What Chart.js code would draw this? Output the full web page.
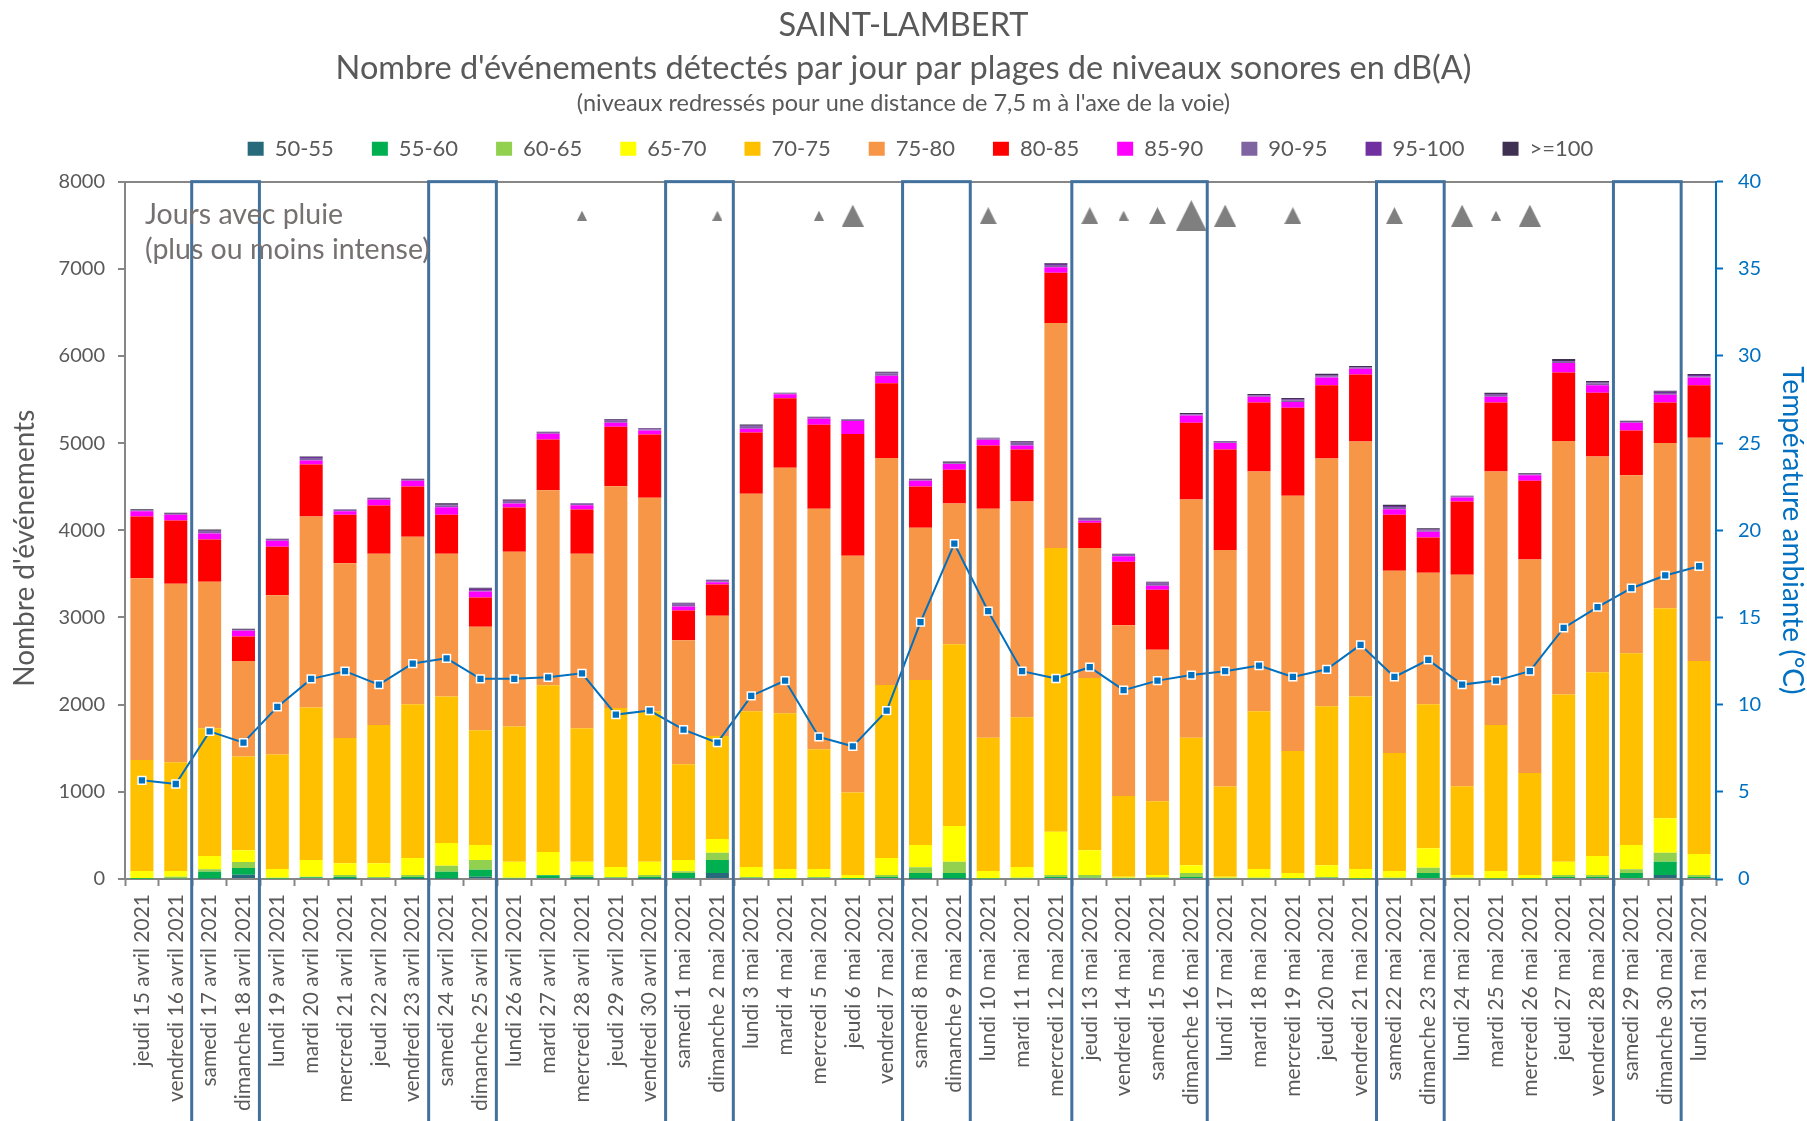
<!DOCTYPE html>
<html>
<head>
<meta charset="utf-8">
<title>Saint-Lambert</title>
<script src="https://cdn.jsdelivr.net/npm/chart.js@4"></script>
<style>
  html, body { margin: 0; padding: 0; background: #fff; }
  canvas { display: block; }
</style>
</head>
<body>
<canvas id="grafico" width="1807" height="1121"></canvas>
<script>
const days = ["jeudi 15 avril 2021","vendredi 16 avril 2021","samedi 17 avril 2021","dimanche 18 avril 2021","lundi 19 avril 2021","mardi 20 avril 2021","mercredi 21 avril 2021","jeudi 22 avril 2021","vendredi 23 avril 2021","samedi 24 avril 2021","dimanche 25 avril 2021","lundi 26 avril 2021","mardi 27 avril 2021","mercredi 28 avril 2021","jeudi 29 avril 2021","vendredi 30 avril 2021","samedi 1 mai 2021","dimanche 2 mai 2021","lundi 3 mai 2021","mardi 4 mai 2021","mercredi 5 mai 2021","jeudi 6 mai 2021","vendredi 7 mai 2021","samedi 8 mai 2021","dimanche 9 mai 2021","lundi 10 mai 2021","mardi 11 mai 2021","mercredi 12 mai 2021","jeudi 13 mai 2021","vendredi 14 mai 2021","samedi 15 mai 2021","dimanche 16 mai 2021","lundi 17 mai 2021","mardi 18 mai 2021","mercredi 19 mai 2021","jeudi 20 mai 2021","vendredi 21 mai 2021","samedi 22 mai 2021","dimanche 23 mai 2021","lundi 24 mai 2021","mardi 25 mai 2021","mercredi 26 mai 2021","jeudi 27 mai 2021","vendredi 28 mai 2021","samedi 29 mai 2021","dimanche 30 mai 2021","lundi 31 mai 2021"];

const db50 = [0,0,5,50,0,0,2,0,3,5,27,0,0,3,0,3,10,69,0,0,0,0,0,3,3,0,0,0,0,0,0,0,0,0,0,0,0,0,0,0,0,0,0,0,0,46,0];
const db55 = [3,8,79,76,5,20,21,15,20,79,80,8,42,20,15,20,59,149,15,5,15,4,23,66,66,5,8,23,15,8,10,23,8,8,5,15,5,8,69,8,5,5,23,23,69,153,23];
const db60 = [7,17,27,69,10,7,23,8,23,69,111,7,4,23,8,23,19,84,8,5,8,4,23,65,130,5,7,23,31,7,10,46,7,7,5,8,5,7,61,7,5,5,23,23,42,103,23];
const db65 = [82,67,153,134,100,191,134,157,195,260,172,184,264,153,115,153,130,157,115,105,92,38,195,256,409,82,123,497,283,12,26,88,12,100,59,134,105,77,222,31,82,36,153,218,279,394,241];
const db70 = [1274,1247,1466,1075,1312,1749,1438,1588,1764,1680,1316,1550,1913,1531,1825,1726,1098,1182,1787,1787,1373,946,1986,1894,2086,1527,1718,3253,1978,926,846,1462,1033,1810,1400,1825,1978,1354,1653,1018,1676,1171,1917,2108,2200,2411,2215];
const db75 = [2085,2047,1679,1098,1829,2192,2005,1963,1921,1638,1187,2004,2238,2001,2544,2448,1424,1378,2494,2816,2759,2716,2602,1745,1614,2628,2475,2582,1489,1959,1737,2735,2713,2750,2927,2843,2927,2089,1507,2425,2907,2448,2908,2476,2043,1894,2560];
const db80 = [708,727,486,280,555,597,555,554,577,447,336,509,582,508,681,727,340,360,704,796,964,1396,857,475,387,727,597,578,290,727,688,880,1155,792,1010,838,769,643,406,842,792,903,788,730,513,466,601];
const db85 = [61,65,69,65,69,46,42,65,65,88,69,46,65,50,46,46,46,26,42,46,69,149,88,65,65,65,46,61,23,65,46,84,73,66,65,91,65,65,65,46,66,65,107,85,88,89,91];
const db90 = [8,8,20,6,10,28,15,8,8,20,18,20,8,14,22,14,20,12,22,12,10,17,25,5,8,17,30,28,20,14,24,8,9,10,22,14,12,26,16,9,20,8,14,24,8,20,14];
const db95 = [5,5,10,5,8,12,5,5,4,8,14,10,5,6,12,9,14,10,13,4,4,3,10,5,6,3,12,12,9,8,14,7,9,7,12,8,5,10,10,6,8,5,10,9,5,15,15];
const db100 = [10,10,16,12,5,6,3,10,11,18,10,16,10,3,8,4,8,5,15,3,9,3,11,13,16,3,8,10,6,5,8,12,5,13,12,21,14,14,16,4,17,10,22,16,10,10,10];

const temperature = [5.66,5.45,8.47,7.82,9.87,11.48,11.92,11.15,12.36,12.66,11.48,11.48,11.57,11.8,9.43,9.66,8.57,7.82,10.5,11.38,8.15,7.61,9.66,14.73,19.24,15.36,11.92,11.5,12.15,10.83,11.38,11.7,11.92,12.24,11.59,12.03,13.43,11.59,12.57,11.15,11.38,11.92,14.4,15.59,16.68,17.41,17.94];

// pluie : 0 = rien, 1 a 4 = de faible a forte
const rain = [0,0,0,0,0,0,0,0,0,0,0,0,0,1,0,0,0,1,0,0,1,3,0,0,0,2,0,0,2,1,2,4,3,0,2,0,0,2,0,3,1,3,0,0,0,0,0];

// premier et dernier jour de chaque cadre (week-ends et pont)
const weekendFrom = [2,9,16,23,28,37,44];
const weekendTo = [3,10,17,24,31,38,45];

const bandLabels = ["50-55","55-60","60-65","65-70","70-75","75-80","80-85","85-90","90-95","95-100",">=100"];
const bandColors = ["#276a7c","#00b050","#92d050","#ffff00","#ffc000","#f79646","#ff0000","#ff00ff","#8064a2","#7030a0","#403152"];
const bandValues = [db50,db55,db60,db65,db70,db75,db80,db85,db90,db95,db100];

const grey = "#595959";
const blue = "#0070c0";
const axisGrey = "#868686";
const font = "Lato";

// triangles de pluie, un canvas par niveau
const triangleSizes = [0,10,17,22,31];
const triangles = triangleSizes.map(function(s){
  const c = document.createElement("canvas");
  c.width = s || 1;
  c.height = s || 1;
  const g = c.getContext("2d");
  g.fillStyle = "#7f7f7f";
  g.beginPath();
  g.moveTo(s/2,0);
  g.lineTo(s,s);
  g.lineTo(0,s);
  g.closePath();
  g.fill();
  return c;
});

const datasets = bandLabels.map(function(label,i){
  return {
    type: "bar",
    label: label,
    data: bandValues[i],
    backgroundColor: bandColors[i],
    borderWidth: 0,
    barPercentage: 0.68,
    categoryPercentage: 1,
    yAxisID: "y",
    order: 2
  };
});

datasets.push({
  type: "line",
  label: "Température",
  data: temperature,
  yAxisID: "y2",
  borderColor: blue,
  borderWidth: 2,
  tension: 0,
  pointStyle: "rect",
  pointRadius: 5.5,
  pointBackgroundColor: blue,
  pointBorderColor: "#fff",
  pointBorderWidth: 1.5,
  order: 1
});

datasets.push({
  type: "line",
  label: "Pluie",
  data: rain.map(function(r){ return r > 0 ? 38.05 : null; }),
  yAxisID: "y2",
  showLine: false,
  pointRadius: 1,
  pointStyle: function(ctx){ return triangles[rain[ctx.dataIndex]]; },
  order: 0
});

// la legende du modele est un peu decalee par rapport au titre
const legendPlace = {
  id: "legendPlace",
  beforeLayout: function(chart){
    const legend = chart.legend;
    if (legend.wrapped) return;
    const fit = legend.fit;
    legend.fit = function(){
      fit.call(this);
      this.height += 12;
    };
    legend.wrapped = true;
  },
  afterLayout: function(chart){
    chart.legend.left += 17;
    chart.legend.right += 17;
  }
};

const cadres = {
  id: "cadres",
  afterDraw: function(chart){
    const ctx = chart.ctx;
    const x = chart.scales.x;
    const half = (x.getPixelForValue(1) - x.getPixelForValue(0)) / 2;
    const top = chart.chartArea.top;
    ctx.save();
    ctx.strokeStyle = "#41719c";
    ctx.lineWidth = 3;
    weekendFrom.forEach(function(from,i){
      const left = x.getPixelForValue(from) - half - 1;
      const right = x.getPixelForValue(weekendTo[i]) + half - 1;
      ctx.strokeRect(left, top, right - left, chart.height + 10 - top);
    });
    ctx.fillStyle = "#767171";
    ctx.font = "28.5px " + font;
    ctx.textBaseline = "middle";
    ctx.fillText("Jours avec pluie", 145, 215);
    ctx.fillText("(plus ou moins intense)", 145, 250);
    ctx.restore();
  }
};

new Chart(document.getElementById("grafico").getContext("2d"), {
  data: { labels: days, datasets: datasets },
  plugins: [legendPlace, cadres],
  options: {
    responsive: false,
    animation: false,
    layout: { padding: 0 },
    plugins: {
      tooltip: { enabled: false },
      title: {
        display: true,
        text: ["SAINT-LAMBERT", "Nombre d'événements détectés par jour par plages de niveaux sonores en dB(A)"],
        color: grey,
        font: { family: font, size: 32.5, weight: "normal", lineHeight: 1.33 },
        padding: { top: 4, bottom: 0 }
      },
      subtitle: {
        display: true,
        text: "(niveaux redressés pour une distance de 7,5 m à l'axe de la voie)",
        color: grey,
        font: { family: font, size: 23.5, weight: "normal" },
        padding: { top: -1, bottom: -18 }
      },
      legend: {
        position: "top",
        labels: {
          filter: function(item){ return item.datasetIndex < bandLabels.length; },
          color: grey,
          font: { family: font, size: 22 },
          boxWidth: 16,
          boxHeight: 14,
          padding: 38
        }
      }
    },
    scales: {
      x: {
        stacked: true,
        grid: { color: "transparent", tickColor: axisGrey, tickLength: 7, tickWidth: 2 },
        border: { color: axisGrey, width: 2 },
        ticks: { color: grey, font: { family: font, size: 21 }, minRotation: 90, maxRotation: 90, autoSkip: false, padding: 8 },
        afterFit: function(scale){ scale.height = 242; }
      },
      y: {
        stacked: true,
        position: "left",
        min: 0,
        max: 8000,
        grid: {
          color: function(c){ return c.tick.value === 8000 ? axisGrey : "transparent"; },
          lineWidth: 2,
          tickColor: axisGrey,
          tickLength: 7,
          tickWidth: 2
        },
        border: { color: axisGrey, width: 2 },
        ticks: { stepSize: 1000, color: grey, font: { family: font, size: 20 }, padding: 13, callback: function(v){ return String(v); } },
        title: {
          display: true,
          text: "Nombre d'événements\u00a0\u00a0\u00a0\u00a0\u00a0",
          color: grey,
          font: { family: font, size: 28 },
          padding: { top: 8, bottom: 0 }
        },
        afterFit: function(scale){ scale.width = 125; }
      },
      y2: {
        position: "right",
        min: 0,
        max: 40,
        grid: { drawOnChartArea: false, tickColor: blue, tickLength: 7, tickWidth: 2 },
        border: { color: blue, width: 2 },
        ticks: { stepSize: 5, color: blue, font: { family: font, size: 20 }, padding: 15 },
        title: {
          display: true,
          text: "Température ambiante (°C)",
          color: blue,
          font: { family: font, size: 28 },
          padding: { top: -2, bottom: 0 }
        },
        afterFit: function(scale){ scale.width = 91; }
      }
    }
  }
});
</script>
</body>
</html>
